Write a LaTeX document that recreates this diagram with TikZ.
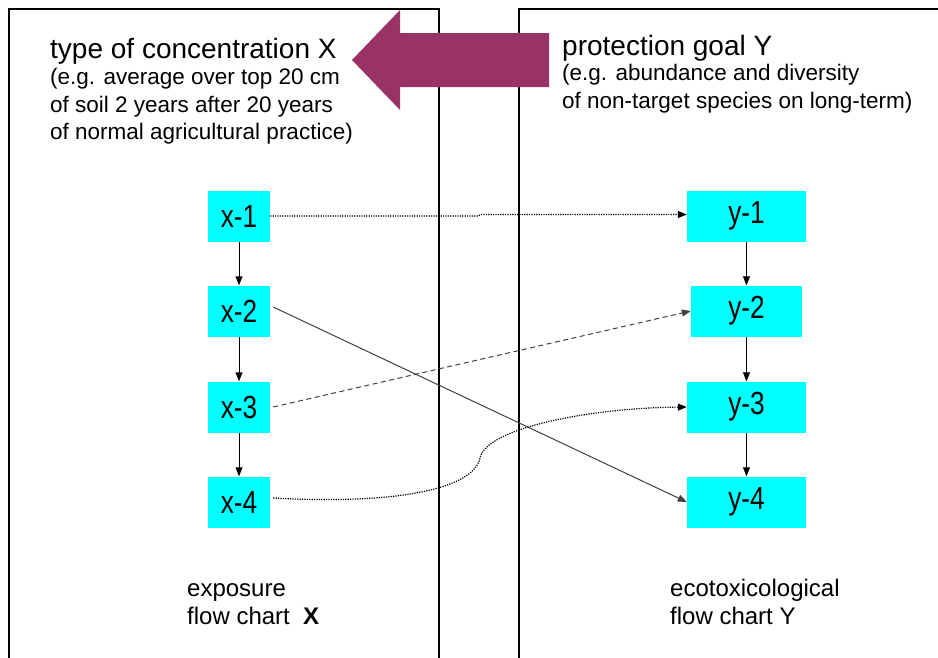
\documentclass[tikz,border=0pt]{standalone}
\usepackage{fontspec}
\setmainfont{Liberation Sans}
\newfontfamily\boxfont[FakeStretch=0.82]{Liberation Sans}
\usetikzlibrary{arrows.meta}
\definecolor{goalpurple}{RGB}{153,51,102}
\definecolor{linkgrey}{RGB}{64,64,64}
\definecolor{boxcyan}{RGB}{0,255,255}
\begin{document}
\begin{tikzpicture}[x=1pt,y=-1pt,
  frame/.style={line width=2.4pt, black},
  xbox/.style={fill=boxcyan, minimum width=62pt, minimum height=51pt, inner sep=0pt,
    font=\boxfont\fontsize{32}{32}\selectfont},
  ybox/.style={xbox, minimum width=119pt},
  tip/.style={-{Triangle[length=9pt,width=7pt]}},
  flow/.style={tip, line width=0.9pt, black},
  dotlink/.style={tip, line width=1.2pt, dash pattern=on 1.2pt off 1.2pt, black},
  dashlink/.style={tip, line width=1pt, dash pattern=on 5pt off 3.5pt, linkgrey},
  solidlink/.style={tip, line width=1pt, linkgrey},
  head/.style={anchor=base west, inner sep=0pt, font=\fontsize{28}{28}\selectfont},
  sub/.style={anchor=base west, inner sep=0pt, font=\fontsize{22.5}{22.5}\selectfont},
  foot/.style={anchor=base west, inner sep=0pt, font=\fontsize{24}{24}\selectfont}]
\useasboundingbox (0,0) rectangle (938,657);

% the two column frames, open at the bottom (and the right one at the right)
\begin{scope}
  \clip (0,0) rectangle (938,657);
  \draw[frame] (9,700) -- (9,9) -- (439,9) -- (439,700);
  \draw[frame] (1000,9) -- (519,9) -- (519,700);
\end{scope}

% broad arrow from the protection goal back to the concentration type
\fill[goalpurple] (549,33) -- (400,33) -- (400,10) -- (352,60)
  -- (400,110) -- (400,87) -- (549,87) -- cycle;

% headings
\node[head] (hx) at (50,58) {type of concentration X};
\node[sub] (hx1) at (50,84) {(e.g. average over top 20 cm};
\node[sub] (hx2) at (50,112) {of soil 2 years after 20 years};
\node[sub] (hx3) at (50,139) {of normal agricultural practice)};
\node[head] (hy) at (562,55) {protection goal Y};
\node[sub] (hy1) at (562,80) {(e.g. abundance and diversity};
\node[sub] (hy2) at (562,108) {of non-target species on long-term)};

% flow chart boxes
\node[xbox] (x1) at (239,216) {x-1};
\node[xbox] (x2) at (239,311) {x-2};
\node[xbox] (x3) at (239,407) {x-3};
\node[xbox] (x4) at (239,502) {x-4};
\node[ybox] (y1) at (746.5,216) {y-1};
\node[ybox, minimum width=111pt] (y2) at (746.5,311) {y-2};
\node[ybox] (y3) at (746.5,407) {y-3};
\node[ybox] (y4) at (746.5,502) {y-4};

% steps within each chart
\draw[flow] (x1) -- (x2);
\draw[flow] (x2) -- (x3);
\draw[flow] (x3) -- (x4);
\draw[flow] (y1) -- (y2);
\draw[flow] (y2) -- (y3);
\draw[flow] (y3) -- (y4);

% links between the charts
\coordinate (j1) at (478,216);
\coordinate (bend) at (480,458);
\draw[dotlink] (x1.east) -- (j1) -- ([yshift=1.5pt]j1 -| 481,0) -- ([yshift=1.5pt]y1.west);
\draw[solidlink] ([xshift=3pt,yshift=4pt]x2.east) -- (y4.west);
\draw[dashlink] ([xshift=3pt]x3.east) -- (y2.west);
\draw[dotlink] ([xshift=3pt,yshift=4pt]x4.east) .. controls (400,505) and (474,488) .. (bend)
  .. controls (486,428) and (590,408) .. (y3.west);

% chart captions
\node[foot] (fx1) at (187,596) {exposure};
\node[foot] (fx2) at (187,624) {flow chart\ \ \textbf{X}};
\node[foot] (fy1) at (670,596) {ecotoxicological};
\node[foot] (fy2) at (670,624) {flow chart Y};
\end{tikzpicture}
\end{document}
